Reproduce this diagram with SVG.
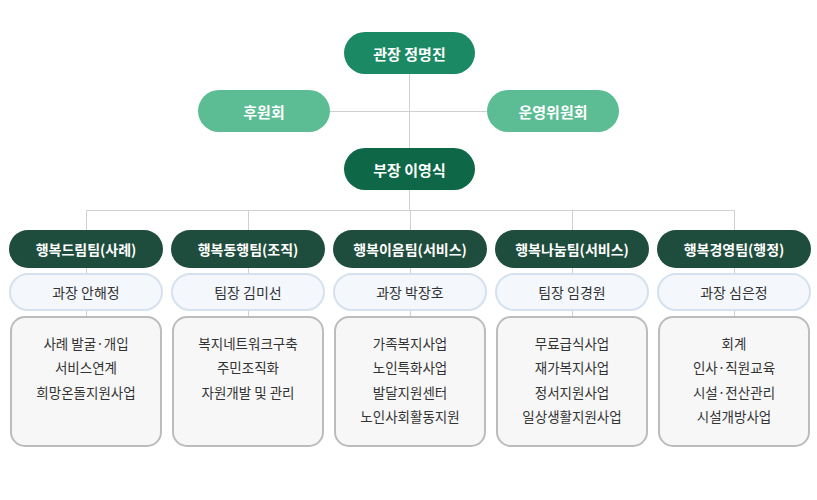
<svg xmlns="http://www.w3.org/2000/svg" width="817" height="500" viewBox="0 0 817 500">
<style>
text{font-family:"Noto Sans CJK KR","Noto Sans",sans-serif;text-anchor:middle;dominant-baseline:central}
.w{fill:#fff;font-weight:bold;font-size:15px}
.h{fill:#fff;font-weight:bold;font-size:14px}
.s{fill:#333;font-size:14px}
.b{fill:#333;font-size:13.5px}
.hd{fill:#1f4d3d}
.sp{fill:#f4f7fb;stroke:#d6e1ef;stroke-width:2}
.bx{fill:#f7f7f7;stroke:#bcbcbc;stroke-width:2}
.ln{stroke:#d0d0d0;stroke-width:1;fill:none}
</style>
<g id="connectors" class="ln">
<path d="M409.5 74V148M330 111.5H487M409.5 190V210.5M86.5 210.5H734.5M86.5 210.5V230M248.5 210.5V230M410.5 210.5V230M572.5 210.5V230M734.5 210.5V230"/>
<path d="M86.5 268V316M248.5 268V316M410.5 268V316M572.5 268V316M734.5 268V316"/>
</g>
<g id="director"><rect x="344" y="32" width="131" height="42" rx="21" fill="#1a8964"/><text class="w" x="409.5" y="53">관장  정명진</text></g>
<g id="sponsor"><rect x="198" y="90" width="132" height="42" rx="21" fill="#5cbd95"/><text class="w" x="264" y="111">후원회</text></g>
<g id="committee"><rect x="487" y="90" width="132" height="42" rx="21" fill="#5cbd95"/><text class="w" x="553" y="111">운영위원회</text></g>
<g id="deputy"><rect x="344" y="148" width="131" height="42" rx="21" fill="#0e6746"/><text class="w" x="409.5" y="169">부장  이영식</text></g>

<g id="team1"><rect class="hd" x="9" y="230" width="154" height="38" rx="19"/><text class="h" x="86" y="249">행복드림팀(사례)</text>
<rect class="sp" x="10" y="274" width="152" height="36" rx="18"/><text class="s" x="86" y="292">과장 안해정</text>
<rect class="bx" x="11" y="317" width="150" height="129" rx="14"/>
<text class="b" x="86" y="343">사례 발굴·개입</text><text class="b" x="86" y="367">서비스연계</text><text class="b" x="86" y="392">희망온돌지원사업</text></g>

<g id="team2"><rect class="hd" x="171" y="230" width="154" height="38" rx="19"/><text class="h" x="248" y="249">행복동행팀(조직)</text>
<rect class="sp" x="172" y="274" width="152" height="36" rx="18"/><text class="s" x="248" y="292">팀장 김미선</text>
<rect class="bx" x="173" y="317" width="150" height="129" rx="14"/>
<text class="b" x="248" y="343">복지네트워크구축</text><text class="b" x="248" y="367">주민조직화</text><text class="b" x="248" y="392">자원개발 및 관리</text></g>

<g id="team3"><rect class="hd" x="333" y="230" width="154" height="38" rx="19"/><text class="h" x="410" y="249">행복이음팀(서비스)</text>
<rect class="sp" x="334" y="274" width="152" height="36" rx="18"/><text class="s" x="410" y="292">과장 박장호</text>
<rect class="bx" x="335" y="317" width="150" height="129" rx="14"/>
<text class="b" x="410" y="343">가족복지사업</text><text class="b" x="410" y="367">노인특화사업</text><text class="b" x="410" y="392">발달지원센터</text><text class="b" x="410" y="416">노인사회활동지원</text></g>

<g id="team4"><rect class="hd" x="495" y="230" width="154" height="38" rx="19"/><text class="h" x="572" y="249">행복나눔팀(서비스)</text>
<rect class="sp" x="496" y="274" width="152" height="36" rx="18"/><text class="s" x="572" y="292">팀장 임경원</text>
<rect class="bx" x="497" y="317" width="150" height="129" rx="14"/>
<text class="b" x="572" y="343">무료급식사업</text><text class="b" x="572" y="367">재가복지사업</text><text class="b" x="572" y="392">정서지원사업</text><text class="b" x="572" y="416">일상생활지원사업</text></g>

<g id="team5"><rect class="hd" x="657" y="230" width="154" height="38" rx="19"/><text class="h" x="734" y="249">행복경영팀(행정)</text>
<rect class="sp" x="658" y="274" width="152" height="36" rx="18"/><text class="s" x="734" y="292">과장 심은정</text>
<rect class="bx" x="659" y="317" width="150" height="129" rx="14"/>
<text class="b" x="734" y="343">회계</text><text class="b" x="734" y="367">인사·직원교육</text><text class="b" x="734" y="392">시설·전산관리</text><text class="b" x="734" y="416">시설개방사업</text></g>
</svg>
